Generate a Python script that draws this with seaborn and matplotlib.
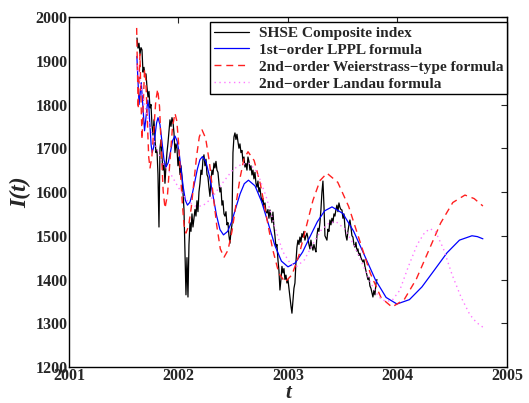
import numpy as np
import pandas as pd
import matplotlib
matplotlib.use("Agg")
import matplotlib.pyplot as plt
import seaborn as sns

# SHSE Composite index, sampled every ~3.3 days from 2001.621
shse_start = 2001.621
shse_step = 0.00913
shse_values = [
    1952, 1929, 1940, 1915, 1930, 1925, 1874, 1885, 1863, 1870,
    1840, 1817, 1830, 1792, 1800, 1753, 1730, 1765, 1720, 1690,
    1696, 1640, 1520, 1700, 1719, 1680, 1650, 1665, 1620, 1660,
    1690, 1712, 1740, 1765, 1750, 1770, 1760, 1735, 1690, 1710,
    1700, 1660, 1680, 1640, 1660, 1634, 1600, 1560, 1460, 1365,
    1450, 1360, 1480, 1530, 1510, 1550, 1520, 1540, 1560, 1545,
    1580, 1555, 1600, 1620, 1650, 1640, 1675, 1685, 1660, 1675,
    1640, 1634, 1610, 1590, 1625, 1650, 1640, 1666, 1655, 1670,
    1650, 1645, 1620, 1600, 1610, 1570, 1580, 1550, 1545, 1555,
    1525, 1530, 1500, 1483, 1510, 1525, 1690, 1726, 1735, 1720,
    1732, 1715, 1700, 1710, 1690, 1695, 1670, 1680, 1657, 1665,
    1650, 1680, 1670, 1650, 1660, 1639, 1650, 1630, 1645, 1620,
    1611, 1625, 1600, 1610, 1590, 1577, 1585, 1565, 1575, 1555,
    1552, 1560, 1540, 1559, 1545, 1530, 1554, 1520, 1500, 1474,
    1480, 1445, 1420, 1376, 1400, 1430, 1415, 1425, 1400, 1410,
    1392, 1400, 1380, 1360, 1340, 1323, 1350, 1380, 1392, 1440,
    1474, 1490, 1480, 1497, 1485, 1505, 1497, 1510, 1490, 1500,
    1506, 1495, 1480, 1470, 1490, 1475, 1467, 1480, 1470, 1463,
    1500, 1517, 1510, 1530, 1560, 1600, 1625, 1570, 1500, 1495,
    1490, 1515, 1510, 1536, 1525, 1540, 1530, 1550, 1545, 1560,
    1570, 1555, 1575, 1565, 1560, 1559, 1540, 1550, 1520, 1500,
    1490, 1510, 1525, 1536, 1520, 1500, 1497, 1480, 1474, 1485,
    1465, 1470, 1455, 1460, 1450, 1445, 1440, 1445, 1430, 1420,
    1410, 1400, 1405, 1385, 1380, 1370, 1360, 1375, 1365, 1390,
    1400,
]

# 1st-order LPPL fit
lppl_t = [
    2001.620, 2001.630, 2001.640, 2001.650, 2001.660, 2001.675, 2001.690, 2001.705,
    2001.720, 2001.730, 2001.740, 2001.750, 2001.760, 2001.773, 2001.786, 2001.800,
    2001.813, 2001.831, 2001.850, 2001.868, 2001.886, 2001.906, 2001.927, 2001.947,
    2001.968, 2001.987, 2002.006, 2002.025, 2002.044, 2002.063, 2002.082, 2002.105,
    2002.128, 2002.151, 2002.173, 2002.196, 2002.219, 2002.251, 2002.283, 2002.315,
    2002.347, 2002.379, 2002.411, 2002.449, 2002.487, 2002.525, 2002.563, 2002.601,
    2002.639, 2002.699, 2002.759, 2002.820, 2002.880, 2002.940, 2003.000, 2003.067,
    2003.134, 2003.201, 2003.268, 2003.335, 2003.402, 2003.501, 2003.600, 2003.699,
    2003.797, 2003.896, 2003.995, 2004.109, 2004.223, 2004.338, 2004.452, 2004.566,
    2004.680, 2004.730, 2004.780,
]
lppl_v = [
    1910, 1855, 1800, 1825, 1850, 1795, 1740, 1775,
    1810, 1792, 1750, 1708, 1690, 1702, 1730, 1758,
    1770, 1754, 1713, 1673, 1657, 1667, 1692, 1718,
    1728, 1717, 1689, 1649, 1610, 1581, 1570, 1577,
    1598, 1626, 1653, 1674, 1681, 1669, 1636, 1592,
    1547, 1514, 1502, 1510, 1533, 1565, 1596, 1619,
    1627, 1614, 1578, 1528, 1478, 1442, 1429, 1438,
    1463, 1498, 1532, 1557, 1566, 1551, 1510, 1455,
    1400, 1359, 1344, 1354, 1383, 1422, 1461, 1490,
    1500, 1498, 1493,
]

# 2nd-order Weierstrass-type fit
weier_t = [
    2001.618, 2001.625, 2001.632, 2001.640, 2001.648, 2001.657, 2001.667, 2001.678,
    2001.690, 2001.702, 2001.715, 2001.728, 2001.740, 2001.757, 2001.775, 2001.793,
    2001.810, 2001.827, 2001.843, 2001.860, 2001.877, 2001.900, 2001.922, 2001.945,
    2001.968, 2001.985, 2002.001, 2002.018, 2002.035, 2002.051, 2002.068, 2002.092,
    2002.117, 2002.141, 2002.166, 2002.190, 2002.215, 2002.248, 2002.282, 2002.315,
    2002.349, 2002.382, 2002.416, 2002.452, 2002.489, 2002.525, 2002.562, 2002.598,
    2002.635, 2002.691, 2002.748, 2002.804, 2002.860, 2002.917, 2002.973, 2003.037,
    2003.101, 2003.165, 2003.228, 2003.292, 2003.356, 2003.455, 2003.554, 2003.653,
    2003.752, 2003.851, 2003.950, 2004.061, 2004.172, 2004.283, 2004.394, 2004.505,
    2004.616, 2004.700, 2004.780,
]
weier_v = [
    1975, 1882, 1790, 1852, 1915, 1818, 1720, 1800,
    1880, 1855, 1768, 1680, 1655, 1681, 1745, 1809,
    1835, 1795, 1699, 1603, 1563, 1595, 1671, 1748,
    1780, 1762, 1711, 1643, 1575, 1524, 1506, 1522,
    1565, 1624, 1683, 1726, 1742, 1723, 1669, 1597,
    1524, 1470, 1451, 1467, 1511, 1572, 1632, 1676,
    1692, 1672, 1618, 1543, 1469, 1414, 1394, 1411,
    1456, 1519, 1581, 1626, 1643, 1622, 1567, 1490,
    1414, 1358, 1337, 1354, 1401, 1465, 1529, 1576,
    1593, 1585, 1568,
]

# 2nd-order Landau fit
landau_t = [
    2001.620, 2001.660, 2001.700, 2001.750, 2001.800, 2001.850, 2001.920, 2002.000,
    2002.080, 2002.150, 2002.220, 2002.300, 2002.400, 2002.500, 2002.580, 2002.650,
    2002.720, 2002.800, 2002.880, 2002.950, 2003.020, 2003.080, 2003.150, 2003.220,
    2003.300, 2003.380, 2003.440, 2003.520, 2003.600, 2003.680, 2003.760, 2003.830,
    2003.890, 2003.950, 2004.020, 2004.100, 2004.180, 2004.250, 2004.300, 2004.350,
    2004.420, 2004.500, 2004.580, 2004.660, 2004.720, 2004.780,
]
landau_v = [
    1890, 1840, 1790, 1740, 1700, 1668, 1645, 1610,
    1580, 1568, 1568, 1585, 1620, 1652, 1664, 1665,
    1645, 1590, 1520, 1465, 1437, 1430, 1445, 1478,
    1512, 1530, 1532, 1515, 1480, 1435, 1390, 1360,
    1350, 1352, 1375, 1430, 1480, 1508, 1516, 1508,
    1470, 1410, 1360, 1320, 1302, 1291,
]

x_ticks = [2001, 2002, 2003, 2004, 2005]
y_ticks = [1200, 1300, 1400, 1500, 1600, 1700, 1800, 1900, 2000]

sns.set_style("white")
plt.rcParams["font.family"] = ["Liberation Serif", "DejaVu Serif"]
plt.rcParams["font.weight"] = "bold"

shse_t = shse_start + shse_step * np.arange(len(shse_values))

fig = plt.figure(figsize=(5.29, 4.03), dpi=100)
ax = fig.add_axes([0.1304, 0.0893, 0.828, 0.8685])

sns.lineplot(x=shse_t, y=shse_values, ax=ax, color="black", linewidth=0.9,
             sort=False, estimator=None, label="SHSE Composite index")
sns.lineplot(x=lppl_t, y=lppl_v, ax=ax, color="#0000ff", linewidth=0.9,
             sort=False, estimator=None, label="1st\u2212order LPPL formula")
sns.lineplot(x=weier_t, y=weier_v, ax=ax, color="#ff2020", linewidth=1.0,
             sort=False, estimator=None,
             label="2nd\u2212order Weierstrass\u2212type formula")
ax.lines[-1].set_linestyle((0, (5, 3.5)))
sns.lineplot(x=landau_t, y=landau_v, ax=ax, color="#ff77ff", linewidth=1.0,
             sort=False, estimator=None,
             label="2nd\u2212order Landau formula")
ax.lines[-1].set_linestyle((0, (1, 2.5)))

ax.set_xlim(2001, 2005)
ax.set_ylim(1200, 2000)
ax.set_xticks(x_ticks)
ax.set_yticks(y_ticks)
ax.set_xticklabels([str(v) for v in x_ticks], fontsize=11.5, fontweight="bold")
ax.set_yticklabels([str(v) for v in y_ticks], fontsize=11.5, fontweight="bold")
ax.tick_params(direction="in", top=True, right=True, length=4, width=0.8, pad=1)
for s in ax.spines.values():
    s.set_linewidth(1.0)
    s.set_color("black")

ax.set_xlabel("t", fontsize=15, fontweight="bold", fontstyle="italic", labelpad=-1)
ax.set_ylabel("I(t)", fontsize=17, fontweight="bold", fontstyle="italic", labelpad=3)

leg = ax.legend(loc="upper right", bbox_to_anchor=(1.0, 0.985), fontsize=11.1,
                frameon=True, fancybox=False, edgecolor="black",
                framealpha=1, handlelength=2.3, labelspacing=0.2,
                borderpad=0.25, handletextpad=0.6, borderaxespad=0.0)
leg.get_frame().set_linewidth(1.0)
for txt in leg.get_texts():
    txt.set_fontweight("bold")

fig.savefig("out.png", dpi=100)
